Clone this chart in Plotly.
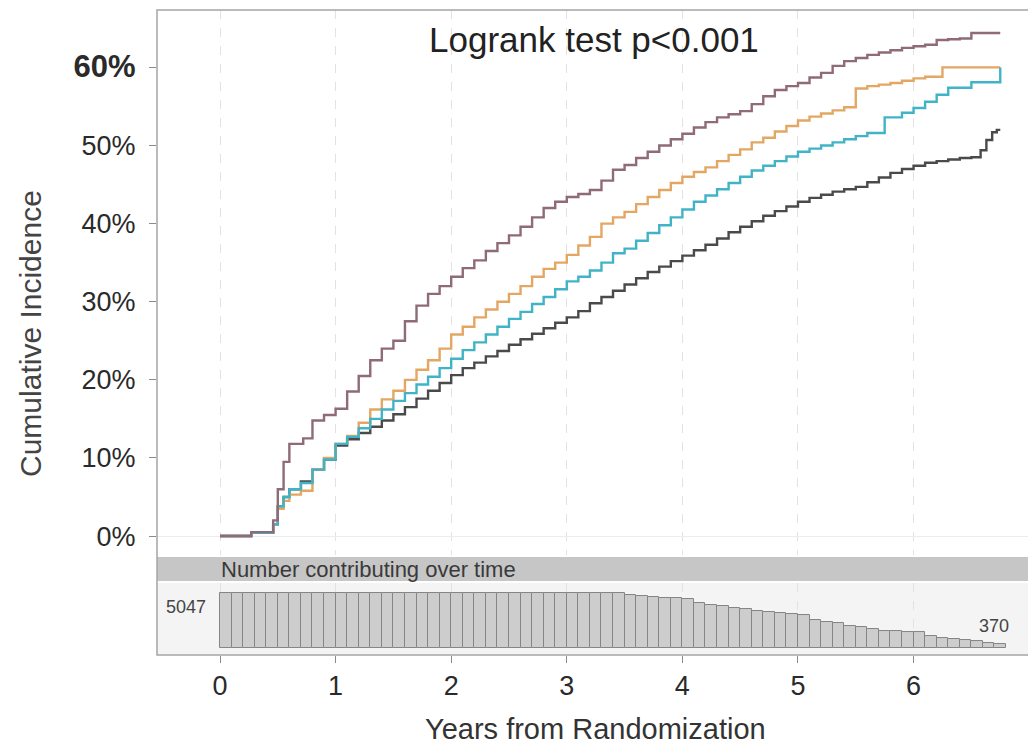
import plotly.graph_objects as go

# ---------------- data ----------------
years_purple = [0, 0.27, 0.46, 0.5, 0.55, 0.6, 0.72, 0.8, 0.9, 1.0, 1.1, 1.2, 1.3, 1.4, 1.5, 1.6, 1.7,
                1.8, 1.9, 2.0, 2.1, 2.2, 2.3, 2.4, 2.5, 2.6, 2.7, 2.8, 2.9, 3.0, 3.1, 3.2, 3.3, 3.4,
                3.5, 3.6, 3.7, 3.8, 3.9, 4.0, 4.1, 4.2, 4.3, 4.4, 4.5, 4.6, 4.7, 4.8, 4.9, 5.0, 5.1,
                5.2, 5.3, 5.4, 5.5, 5.6, 5.7, 5.8, 5.9, 6.0, 6.1, 6.2, 6.3, 6.4, 6.5, 6.75]
cuminc_purple = [0, 0.5, 2.0, 6.0, 9.5, 11.8, 12.5, 14.8, 15.5, 16.3, 18.5, 20.5, 22.5, 24.0, 25.0,
                 27.5, 29.5, 31.0, 32.0, 33.2, 34.3, 35.3, 36.5, 37.5, 38.5, 39.6, 40.8, 42.0, 42.8,
                 43.4, 43.8, 44.3, 45.5, 46.9, 47.5, 48.4, 49.2, 50.0, 50.8, 51.5, 52.3, 53.0, 53.6,
                 54.0, 54.4, 55.3, 56.3, 57.1, 57.6, 58.0, 58.7, 59.3, 60.2, 60.8, 61.2, 61.6, 61.9,
                 62.2, 62.5, 62.7, 62.9, 63.5, 63.6, 63.7, 64.4, 64.4]

years_orange = [0, 0.27, 0.46, 0.5, 0.55, 0.6, 0.7, 0.8, 0.9, 1.0, 1.1, 1.2, 1.3, 1.4, 1.5, 1.6, 1.7,
                1.8, 1.9, 2.0, 2.1, 2.2, 2.3, 2.4, 2.5, 2.6, 2.7, 2.8, 2.9, 3.0, 3.1, 3.2, 3.3, 3.4,
                3.5, 3.6, 3.7, 3.8, 3.9, 4.0, 4.1, 4.2, 4.3, 4.4, 4.5, 4.6, 4.7, 4.8, 4.9, 5.0, 5.1,
                5.2, 5.3, 5.4, 5.5, 5.6, 5.7, 5.8, 5.9, 6.0, 6.1, 6.25, 6.75]
cuminc_orange = [0, 0.4, 1.5, 3.5, 4.5, 5.3, 5.8, 8.5, 10.0, 11.8, 12.8, 14.5, 16.2, 17.5, 18.6,
                 20.0, 21.3, 22.5, 24.0, 25.8, 26.8, 28.0, 29.0, 30.0, 31.0, 32.0, 33.2, 34.2, 35.0,
                 36.0, 37.2, 38.3, 40.0, 40.8, 41.5, 42.5, 43.4, 44.3, 45.2, 46.0, 46.6, 47.2, 48.0,
                 48.8, 49.5, 50.4, 51.0, 51.8, 52.5, 53.2, 53.7, 54.1, 54.5, 54.9, 57.3, 57.6, 57.8,
                 58.0, 58.3, 58.6, 58.8, 60.0, 60.0]

years_cyan = [0, 0.27, 0.46, 0.5, 0.55, 0.6, 0.7, 0.8, 0.9, 1.0, 1.1, 1.2, 1.3, 1.4, 1.5, 1.6, 1.7,
              1.8, 1.9, 2.0, 2.1, 2.2, 2.3, 2.4, 2.5, 2.6, 2.7, 2.8, 2.9, 3.0, 3.1, 3.2, 3.3, 3.4,
              3.5, 3.6, 3.7, 3.8, 3.9, 4.0, 4.1, 4.2, 4.3, 4.4, 4.5, 4.6, 4.7, 4.8, 4.9, 5.0, 5.1,
              5.2, 5.3, 5.4, 5.5, 5.6, 5.75, 5.9, 6.0, 6.1, 6.2, 6.3, 6.5, 6.75]
cuminc_cyan = [0, 0.4, 1.5, 3.8, 5.0, 6.0, 6.8, 8.5, 9.8, 11.8, 12.7, 13.8, 15.0, 16.2, 17.3, 18.3,
               19.4, 20.4, 21.5, 22.7, 23.8, 24.8, 25.8, 26.8, 27.8, 28.7, 29.7, 30.6, 31.6, 32.6,
               33.2, 34.0, 35.0, 36.2, 36.8, 37.8, 38.8, 39.8, 40.8, 41.8, 42.8, 43.6, 44.4, 45.2,
               46.0, 46.8, 47.4, 48.0, 48.6, 49.2, 49.6, 50.0, 50.4, 50.8, 51.2, 51.6, 53.6, 54.2,
               54.8, 55.6, 56.5, 57.4, 58.1, 60.0]

years_gray = [0, 0.27, 0.46, 0.5, 0.55, 0.6, 0.7, 0.8, 0.9, 1.0, 1.1, 1.2, 1.3, 1.4, 1.5, 1.6, 1.7,
              1.8, 1.9, 2.0, 2.1, 2.2, 2.3, 2.4, 2.5, 2.6, 2.7, 2.8, 2.9, 3.0, 3.1, 3.2, 3.3, 3.4,
              3.5, 3.6, 3.7, 3.8, 3.9, 4.0, 4.1, 4.2, 4.3, 4.4, 4.5, 4.6, 4.7, 4.8, 4.9, 5.0, 5.1,
              5.2, 5.3, 5.4, 5.5, 5.6, 5.7, 5.8, 5.9, 6.0, 6.1, 6.2, 6.3, 6.4, 6.5, 6.58, 6.63,
              6.68, 6.72, 6.75]
cuminc_gray = [0, 0.4, 1.5, 3.8, 5.0, 6.0, 7.0, 8.5, 9.8, 11.6, 12.4, 13.2, 14.0, 14.8, 15.6, 16.5,
               17.6, 18.6, 19.6, 20.6, 21.5, 22.2, 23.0, 23.7, 24.5, 25.2, 25.9, 26.6, 27.3, 28.0,
               28.8, 29.8, 30.6, 31.4, 32.2, 33.0, 33.8, 34.5, 35.2, 35.9, 36.6, 37.3, 38.1, 38.9,
               39.6, 40.3, 41.0, 41.6, 42.2, 42.8, 43.3, 43.7, 44.1, 44.4, 44.7, 45.3, 45.9, 46.5,
               47.0, 47.4, 47.8, 48.0, 48.2, 48.4, 48.5, 49.4, 50.7, 51.7, 52.0, 52.0]

risk_years = [0.0, 0.1, 0.2, 0.3, 0.4, 0.5, 0.6, 0.7, 0.8, 0.9, 1.0, 1.1, 1.2, 1.3, 1.4, 1.5, 1.6,
              1.7, 1.8, 1.9, 2.0, 2.1, 2.2, 2.3, 2.4, 2.5, 2.6, 2.7, 2.8, 2.9, 3.0, 3.1, 3.2, 3.3,
              3.4, 3.5, 3.6, 3.7, 3.8, 3.9, 4.0, 4.1, 4.2, 4.3, 4.4, 4.5, 4.6, 4.7, 4.8, 4.9, 5.0,
              5.1, 5.2, 5.3, 5.4, 5.5, 5.6, 5.7, 5.8, 5.9, 6.0, 6.1, 6.2, 6.3, 6.4, 6.5, 6.6, 6.7]
risk_counts = [5047, 5047, 5047, 5047, 5047, 5047, 5047, 5047, 5047, 5047, 5047, 5047, 5047, 5047,
               5047, 5047, 5047, 5047, 5047, 5047, 5047, 5047, 5047, 5047, 5047, 5047, 5047, 5047,
               5047, 5047, 5047, 5047, 5047, 5047, 5047, 4900, 4740, 4650, 4600, 4560, 4500, 4120,
               3950, 3810, 3650, 3560, 3380, 3300, 3200, 3100, 3050, 2580, 2400, 2280, 2000, 1960,
               1750, 1600, 1550, 1500, 1480, 1140, 900, 820, 700, 600, 450, 370]

y_tick_values = [0, 10, 20, 30, 40, 50, 60]
y_tick_labels = ["0%", "10%", "20%", "30%", "40%", "50%",
                 "<b><span style='font-size:31px'>60%</span></b>"]
x_tick_values = [0, 1, 2, 3, 4, 5, 6]
x_tick_labels = ["0", "1", "2", "3", "4", "5", "6"]

title_text = "Logrank test p<0.001"
strip_text = "Number contributing over time"
x_title = "Years from Randomization"
y_title = "Cumulative Incidence"

# ---------------- figure ----------------
FONT = "Liberation Sans, Arial, Helvetica, sans-serif"
fig = go.Figure()

series = [
    (years_gray, cuminc_gray, "#4a4a4a"),
    (years_orange, cuminc_orange, "#e4a763"),
    (years_cyan, cuminc_cyan, "#40b4c6"),
    (years_purple, cuminc_purple, "#8f6a78"),
]
for xs, ys, col in series:
    fig.add_trace(go.Scatter(x=xs, y=ys, mode="lines", line=dict(color=col, width=2.4, shape="hv"),
                             xaxis="x", yaxis="y", hoverinfo="skip"))

fig.add_trace(go.Bar(x=risk_years, y=risk_counts, width=0.1, offset=0,
                     marker=dict(color="#cdcdcd", line=dict(color="#858585", width=1)),
                     xaxis="x", yaxis="y2", hoverinfo="skip"))

fig.update_layout(
    width=1028, height=748,
    margin=dict(l=157, r=0, t=10, b=93),
    plot_bgcolor="white", paper_bgcolor="white",
    showlegend=False,
    bargap=0,
    font=dict(family=FONT, color="#2a2a2a"),
    xaxis=dict(range=[-0.545, 6.99], tickvals=x_tick_values, ticktext=x_tick_labels,
               ticks="outside", ticklen=7, tickcolor="#8a8a8a", tickwidth=1,
               tickfont=dict(size=27, color="#2a2a2a"),
               showgrid=True, gridcolor="#e2e2e2", griddash="dash", gridwidth=1,
               zeroline=False, showline=False, anchor="free", position=0),
    yaxis=dict(domain=[0.155, 1], range=[-2.43, 67.35], tickvals=y_tick_values,
               ticktext=y_tick_labels, ticks="outside", ticklen=7, tickcolor="#8a8a8a",
               ticklabelstandoff=8,
               tickfont=dict(size=27, color="#2a2a2a"), showgrid=False,
               zeroline=True, zerolinecolor="#ececec", zerolinewidth=1, showline=False),
    yaxis2=dict(domain=[0.01085, 0.1116], range=[0, 5965], showticklabels=False,
                ticks="", showgrid=False, zeroline=False, showline=False),
)

shapes = [
    # background of the number-at-risk panel
    dict(type="rect", xref="paper", yref="paper", x0=0, x1=1.02, y0=0, y1=0.1116,
         fillcolor="#f4f4f4", line=dict(width=0), layer="below"),
    # strip band
    dict(type="rect", xref="paper", yref="paper", x0=0, x1=1.02, y0=0.1147, y1=0.1519,
         fillcolor="#c6c6c6", line=dict(width=0), layer="below"),
    # outer frame
    dict(type="rect", xref="paper", yref="paper", x0=0, x1=1.02, y0=0, y1=1,
         fillcolor="rgba(0,0,0,0)", line=dict(color="#a5a5a5", width=1.5), layer="above"),
]
fig.update_layout(shapes=shapes)

annotations = [
    dict(text=title_text, xref="paper", yref="paper", x=0.502, y=0.955, showarrow=False,
         font=dict(size=35, color="#222222"), xanchor="center", yanchor="middle"),
    dict(text=strip_text, xref="x", yref="paper", x=0, y=0.1333, showarrow=False,
         xanchor="left", yanchor="middle", xshift=-1, font=dict(size=22, color="#3a3a3a")),
    dict(text=str(risk_counts[0]), xref="x", yref="y2", x=0, y=risk_counts[0], showarrow=False,
         xanchor="right", yanchor="top", xshift=-12, yshift=-2, font=dict(size=18, color="#444444")),
    dict(text=str(risk_counts[-1]), xref="x", yref="y2", x=risk_years[-1], y=risk_counts[-1],
         showarrow=False, xanchor="center", yanchor="bottom", yshift=6,
         font=dict(size=18, color="#444444")),
    dict(text=x_title, xref="paper", yref="paper", x=0.503, y=-0.114, showarrow=False,
         xanchor="center", yanchor="middle", font=dict(size=29, color="#333333")),
    dict(text=y_title, xref="paper", yref="paper", x=-0.146, y=0.499, showarrow=False,
         xanchor="center", yanchor="middle", textangle=-90, font=dict(size=30, color="#444444")),
]
fig.update_layout(annotations=annotations)

fig.write_html("out.html")
